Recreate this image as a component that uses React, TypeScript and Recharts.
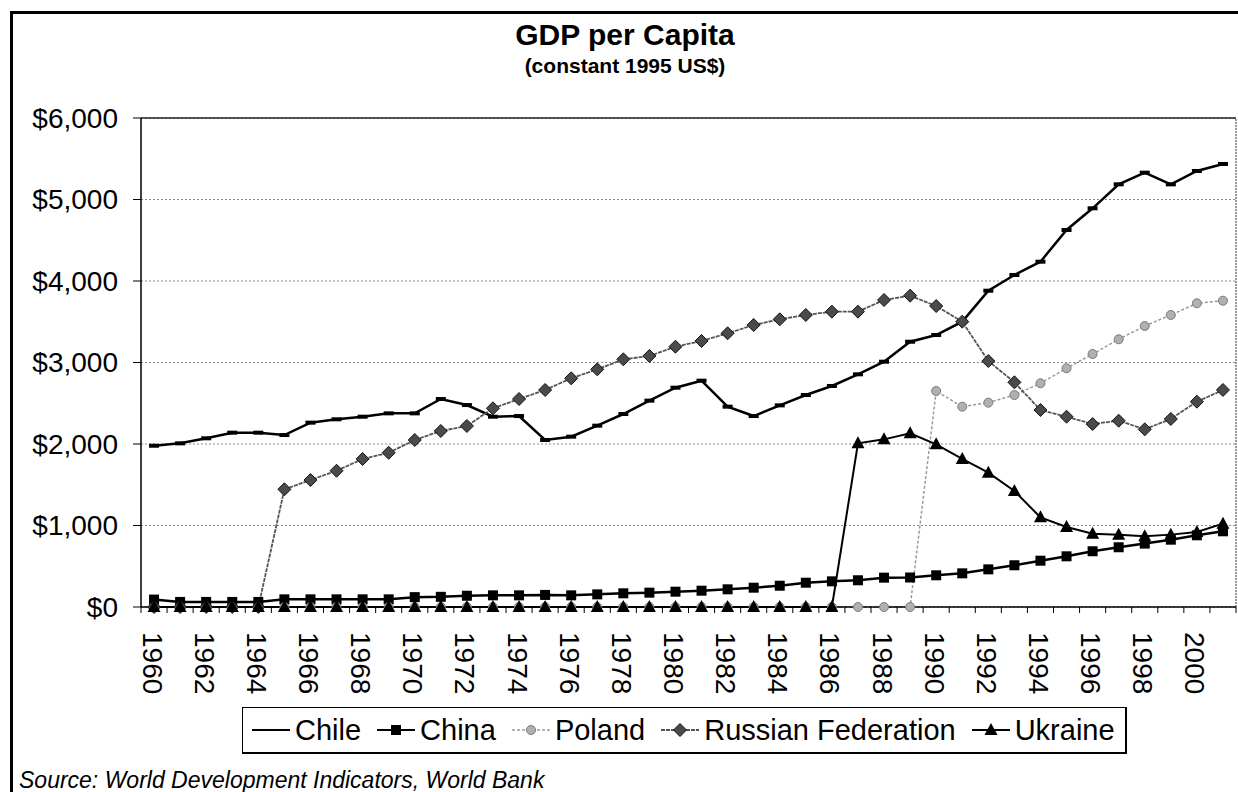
import React from 'react';
import { LineChart, Line, XAxis, YAxis, CartesianGrid, ReferenceLine } from 'recharts';

// GDP per capita, constant 1995 US$
const years = [
  1960, 1961, 1962, 1963, 1964, 1965, 1966, 1967, 1968, 1969,
  1970, 1971, 1972, 1973, 1974, 1975, 1976, 1977, 1978, 1979,
  1980, 1981, 1982, 1983, 1984, 1985, 1986, 1987, 1988, 1989,
  1990, 1991, 1992, 1993, 1994, 1995, 1996, 1997, 1998, 1999,
  2000, 2001,
];

const chile = [
  1979, 2008, 2070, 2139, 2139, 2110, 2262, 2303, 2335, 2376,
  2376, 2552, 2478, 2335, 2343, 2049, 2090, 2225, 2368, 2532,
  2691, 2777, 2458, 2343, 2474, 2601, 2712, 2855, 3010, 3255,
  3337, 3501, 3881, 4074, 4237, 4626, 4892, 5186, 5329, 5186,
  5350, 5436,
];

const china = [
  91, 62, 62, 62, 62, 94, 94, 94, 94, 94,
  121, 125, 138, 143, 143, 148, 143, 155, 168, 176,
  188, 200, 217, 237, 261, 298, 315, 328, 360, 362,
  389, 413, 462, 512, 568, 622, 684, 733, 778, 826,
  880, 929,
];

const poland = [
  0, 0, 0, 0, 0, 0, 0, 0, 0, 0,
  0, 0, 0, 0, 0, 0, 0, 0, 0, 0,
  0, 0, 0, 0, 0, 0, 0, 0, 0, 0,
  2650, 2458, 2507, 2601, 2745, 2929, 3104, 3285, 3448, 3583,
  3726, 3758,
];

const russia = [
  0, 0, 0, 0, 0, 1444, 1558, 1672, 1816, 1893,
  2049, 2160, 2221, 2438, 2552, 2663, 2806, 2916, 3039, 3080,
  3194, 3264, 3358, 3460, 3530, 3583, 3624, 3624, 3767, 3820,
  3693, 3501, 3018, 2757, 2417, 2335, 2245, 2286, 2180, 2307,
  2519, 2663,
];

const ukraine = [
  0, 0, 0, 0, 0, 0, 0, 0, 0, 0,
  0, 0, 0, 0, 0, 0, 0, 0, 0, 0,
  0, 0, 0, 0, 0, 0, 0, 2008, 2057, 2131,
  1996, 1816, 1648, 1423, 1100, 982, 900, 888, 867, 888,
  921, 1023,
];

const yTicks = [0, 1000, 2000, 3000, 4000, 5000, 6000];

const data = years.map((year, i) => ({
  year,
  chile: chile[i],
  china: china[i],
  poland: poland[i],
  russia: russia[i],
  ukraine: ukraine[i],
}));

// tick marks sit between categories, like the old spreadsheet chart
const boundaries = years.map((y) => y - 0.5).concat(years[years.length - 1] + 0.5);

const FONT = '"Liberation Sans", Arial, Helvetica, sans-serif';
const W = 1238;
const H = 792;
const Y_AXIS_W = 141;
const RIGHT = 2;
const HALF_BAND = (W - Y_AXIS_W - RIGHT) / years.length / 2;

const YearTick = (props: any) => {
  const { x, y, payload } = props;
  const year = payload.value + 0.5;
  if (year % 2 !== 0 || year > years[years.length - 1]) return <g />;
  return (
    <g transform={`translate(${x + HALF_BAND - 2},${y + 19}) rotate(90)`}>
      <text textAnchor="start" dominantBaseline="central" fontSize={28} fontFamily={FONT} fill="#000">
        {year}
      </text>
    </g>
  );
};

// markers
const dash = (p: any) => <rect key={p.index} x={p.cx - 5} y={p.cy - 2} width={10} height={4} fill="#000" />;
const square = (p: any) => <rect key={p.index} x={p.cx - 5} y={p.cy - 5} width={10} height={10} fill="#000" />;
const circle = (p: any) => <circle key={p.index} cx={p.cx} cy={p.cy} r={4.5} fill="#b0b0b0" stroke="#7a7a7a" strokeWidth={1} />;
const diamond = (p: any) => (
  <path key={p.index} d={`M${p.cx},${p.cy - 6.5}L${p.cx + 6.5},${p.cy}L${p.cx},${p.cy + 6.5}L${p.cx - 6.5},${p.cy}Z`} fill="#4a4a4a" stroke="#111" strokeWidth={1} />
);
const triangle = (p: any) => (
  <path key={p.index} d={`M${p.cx},${p.cy - 7}L${p.cx + 6.5},${p.cy + 5}L${p.cx - 6.5},${p.cy + 5}Z`} fill="#000" />
);

const SERIES = [
  { key: 'chile', label: 'Chile', stroke: '#000', width: 2.5, dashArray: undefined, dot: dash },
  { key: 'china', label: 'China', stroke: '#000', width: 2.5, dashArray: undefined, dot: square },
  { key: 'poland', label: 'Poland', stroke: '#9a9a9a', width: 1.5, dashArray: '3 2', dot: circle },
  { key: 'russia', label: 'Russian Federation', stroke: '#555', width: 1.8, dashArray: '4 1', dot: diamond },
  { key: 'ukraine', label: 'Ukraine', stroke: '#000', width: 2, dashArray: undefined, dot: triangle },
];

function LegendIcon({ s }: { s: (typeof SERIES)[number] }) {
  return (
    <svg width={38} height={20} style={{ display: 'block' }}>
      <line x1={0} y1={10} x2={38} y2={10} stroke={s.stroke} strokeWidth={Math.min(s.width, 2)} strokeDasharray={s.dashArray} />
      {s.key === 'chile' ? null : s.dot({ cx: 19, cy: 10, index: 0 })}
    </svg>
  );
}

export default function App() {
  return (
    <div style={{ position: 'absolute', left: 0, top: 0, width: W, height: H, background: '#fff', overflow: 'hidden' }}>
      <div
        style={{
          position: 'absolute',
          left: 10,
          top: 11,
          width: W,
          height: H,
          borderTop: '3px solid #000',
          borderLeft: '3px solid #000',
        }}
      />
      <div style={{ position: 'absolute', left: 0, top: 0 }}>
        <LineChart width={W} height={H} data={data} margin={{ top: 118, right: RIGHT, bottom: 0, left: 0 }}>
          <CartesianGrid vertical={false} stroke="#8a8a8a" strokeDasharray="2 2" />
          <XAxis
            type="number"
            dataKey="year"
            domain={[boundaries[0], boundaries[boundaries.length - 1]]}
            ticks={boundaries}
            interval={0}
            tick={<YearTick />}
            tickSize={6}
            tickMargin={0}
            height={185}
            axisLine={{ stroke: '#000', strokeWidth: 1.5 }}
            tickLine={{ stroke: '#000' }}
            allowDataOverflow
          />
          <YAxis
            domain={[0, 6000]}
            ticks={yTicks}
            interval={0}
            width={Y_AXIS_W}
            tickSize={8}
            tickMargin={15}
            tick={{ fontSize: 28, fill: '#000', fontFamily: FONT }}
            tickFormatter={(v: number) => '$' + v.toLocaleString('en-US')}
            axisLine={{ stroke: '#000', strokeWidth: 1.5 }}
            tickLine={{ stroke: '#000' }}
          />
          <ReferenceLine y={6000} stroke="#222" strokeWidth={1.5} />
          <ReferenceLine x={boundaries[boundaries.length - 1]} stroke="#333" strokeDasharray="2 1" />
          {SERIES.map((s) => (
            <Line
              key={s.key}
              type="linear"
              dataKey={s.key}
              stroke={s.stroke}
              strokeWidth={s.width}
              strokeDasharray={s.dashArray}
              dot={s.dot}
              activeDot={false}
              isAnimationActive={false}
            />
          ))}
        </LineChart>
      </div>
      <svg width={W} height={H} style={{ position: 'absolute', left: 0, top: 0, pointerEvents: 'none' }}>
        <text x={625} y={45} textAnchor="middle" fontFamily={FONT} fontWeight="bold" fontSize={30}>
          GDP per Capita
        </text>
        <text x={625} y={73} textAnchor="middle" fontFamily={FONT} fontWeight="bold" fontSize={21}>
          (constant 1995 US$)
        </text>
        <text x={19} y={788} fontFamily={FONT} fontStyle="italic" fontSize={23}>
          Source: World Development Indicators, World Bank
        </text>
      </svg>
      <div
        style={{
          position: 'absolute',
          left: 242,
          top: 707,
          height: 44,
          border: '1px solid #000',
          borderRightWidth: 2,
          borderBottomWidth: 2,
          display: 'flex',
          alignItems: 'center',
          padding: '0 10px 0 9px',
          fontFamily: FONT,
          fontSize: 29,
          color: '#000',
          background: '#fff',
        }}
      >
        {SERIES.map((s, i) => (
          <div key={s.key} style={{ display: 'flex', alignItems: 'center', marginRight: i < SERIES.length - 1 ? 16 : 0 }}>
            <LegendIcon s={s} />
            <span style={{ marginLeft: 5, lineHeight: '44px' }}>{s.label}</span>
          </div>
        ))}
      </div>
    </div>
  );
}
